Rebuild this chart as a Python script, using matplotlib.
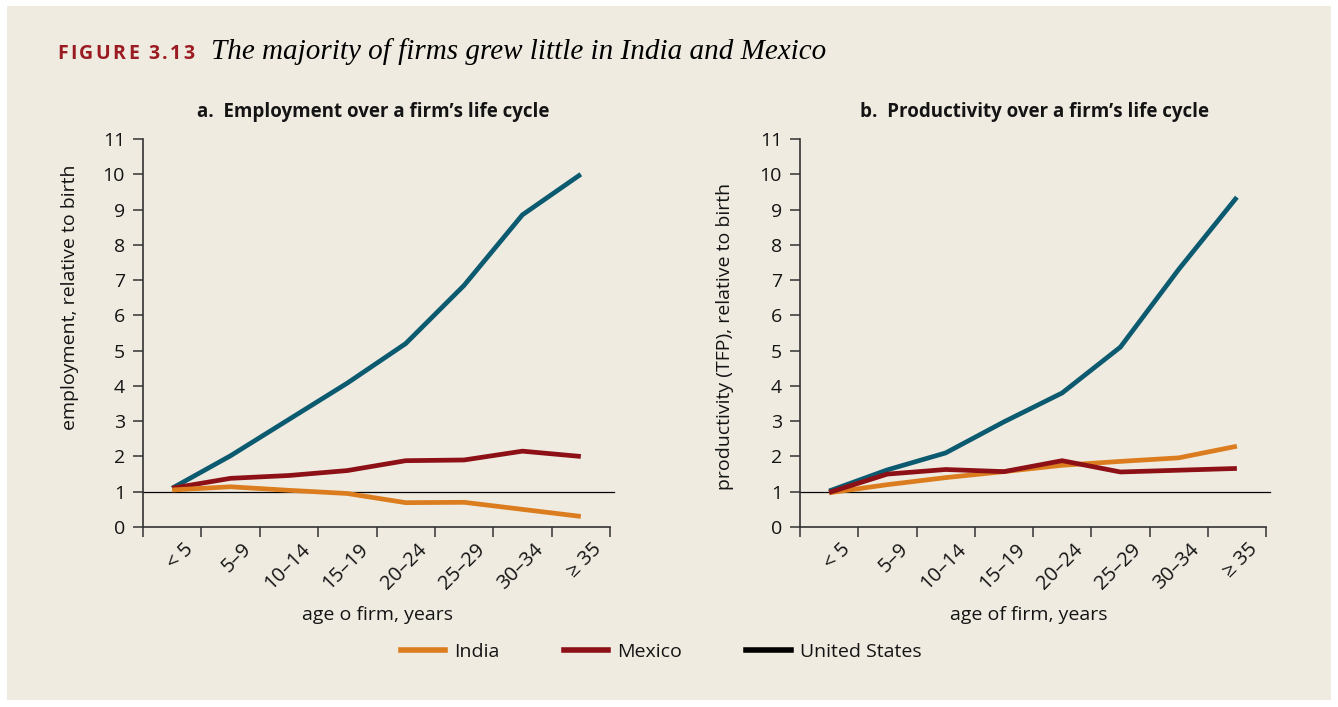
import matplotlib
matplotlib.use("Agg")
import matplotlib.pyplot as plt
from matplotlib.lines import Line2D
from matplotlib.patches import Rectangle
from matplotlib.transforms import ScaledTranslation

plt.rcParams['font.family'] = ['Open Sans', 'DejaVu Sans']

# ---- data ----
age_groups = ['< 5', '5–9', '10–14', '15–19', '20–24', '25–29', '30–34', '≥ 35']
emp_india = [1.05, 1.14, 1.04, 0.95, 0.69, 0.70, 0.50, 0.30]
emp_mexico = [1.10, 1.38, 1.46, 1.60, 1.88, 1.90, 2.15, 2.00]
emp_us = [1.10, 2.02, 3.05, 4.08, 5.20, 6.85, 8.85, 10.00]
tfp_india = [0.97, 1.20, 1.40, 1.57, 1.75, 1.86, 1.96, 2.29]
tfp_mexico = [0.98, 1.50, 1.63, 1.57, 1.88, 1.56, 1.61, 1.66]
tfp_us = [1.02, 1.62, 2.10, 2.98, 3.80, 5.10, 7.30, 9.35]
yticks = list(range(0, 12))

C_IND = '#DB7D1E'
C_MEX = '#8C1015'
C_US = '#0B5A70'
BG = '#EFEBE1'
TXT = '#141414'

W, H = 1338, 707
fig = plt.figure(figsize=(W / 100, H / 100), dpi=100, facecolor='white')
bgrect = Rectangle((7 / W, 1 - 700 / H), (1331 - 7) / W, (700 - 6) / H,
                   transform=fig.transFigure, facecolor=BG, edgecolor='none', zorder=-10)
fig.patches.append(bgrect)


def px_axes(x0, x1, ytop, ybot):
    return fig.add_axes([x0 / W, 1 - ybot / H, (x1 - x0) / W, (ybot - ytop) / H])


def style(ax, series):
    ax.set_facecolor('none')
    ax.set_zorder(5)
    n = len(age_groups)
    xs = list(range(n))
    for vals, col in series:
        ax.plot(xs, vals, color=col, lw=3.4, solid_capstyle='butt', solid_joinstyle='round', zorder=3)
    ax.axhline(1, xmin=0, xmax=1.009, color='black', lw=0.9, clip_on=False, zorder=2)
    ax.set_xlim(-0.5, n - 0.5)
    ax.set_ylim(0, 11)
    ax.set_yticks(yticks)
    ax.set_yticklabels([str(t) for t in yticks], fontsize=14, color=TXT)
    ax.set_xticks([i - 0.5 for i in range(n + 1)])
    ax.set_xticklabels([])
    ax.set_xticks(xs, minor=True)
    ax.set_xticklabels(age_groups, minor=True, rotation=45, ha='right', va='top',
                       rotation_mode='anchor', fontsize=14.5, color=TXT)
    ax.tick_params(axis='x', which='minor', length=0, pad=9)
    ax.tick_params(axis='x', which='major', direction='out', length=7, width=1.1, color='#333333')
    ax.tick_params(axis='y', direction='out', length=7, width=1.1, color='#333333', pad=6)
    off = ScaledTranslation(11 / 100, 0, fig.dpi_scale_trans)
    for lab in ax.get_xticklabels(minor=True):
        lab.set_transform(lab.get_transform() + off)
    for s in ['top', 'right']:
        ax.spines[s].set_visible(False)
    for s in ['left', 'bottom']:
        ax.spines[s].set_color('#333333')
        ax.spines[s].set_linewidth(1.2)


axA = px_axes(143, 610, 139, 527)
style(axA, [(emp_us, C_US), (emp_mexico, C_MEX), (emp_india, C_IND)])
axB = px_axes(800, 1266, 139, 527)
style(axB, [(tfp_us, C_US), (tfp_india, C_IND), (tfp_mexico, C_MEX)])

# panel titles
fig.text(373 / W, 1 - 112 / H, 'a.  Employment over a firm’s life cycle', ha='center', va='center',
         fontsize=13.5, fontweight='bold', color=TXT)
fig.text(1035 / W, 1 - 112 / H, 'b.  Productivity over a firm’s life cycle', ha='center', va='center',
         fontsize=13.5, fontweight='bold', color=TXT)

# axis labels
fig.text(70 / W, 1 - 297 / H, 'employment, relative to birth', rotation=90, ha='center', va='center',
         fontsize=14, color=TXT)
fig.text(725 / W, 1 - 336 / H, 'productivity (TFP), relative to birth', rotation=90, ha='center',
         va='center', fontsize=14, color=TXT)
fig.text(378 / W, 1 - 615 / H, 'age o firm, years', ha='center', va='center', fontsize=14, color=TXT)
fig.text(1029 / W, 1 - 615 / H, 'age of firm, years', ha='center', va='center', fontsize=14, color=TXT)

# figure heading with letter spacing
renderer = fig.canvas.get_renderer()
x = 57
base_y = 1 - 59 / H
for ch in 'FIGURE 3.13':
    t = fig.text(x / W, base_y, ch, ha='left', va='baseline', fontsize=14, fontweight='bold',
                 color='#9B1B22')
    if ch == ' ':
        w = 5
    else:
        w = t.get_window_extent(renderer).width
    x += w + 2.4
fig.text(211 / W, base_y, 'The majority of firms grew little in India and Mexico', ha='left',
         va='baseline', fontsize=21, style='italic', family=['Liberation Serif', 'DejaVu Serif'],
         color='black')

# legend
handles = [Line2D([], [], color=C_IND, lw=4),
           Line2D([], [], color=C_MEX, lw=4),
           Line2D([], [], color='black', lw=4)]
fig.legend(handles, ['India', 'Mexico', 'United States'], loc='center',
           bbox_to_anchor=(661 / W, 1 - 652 / H), ncol=3, frameon=False, fontsize=14,
           handlelength=2.3, handletextpad=0.45, columnspacing=3.3, labelcolor=TXT)

fig.savefig('out.png', dpi=100, facecolor='white')
